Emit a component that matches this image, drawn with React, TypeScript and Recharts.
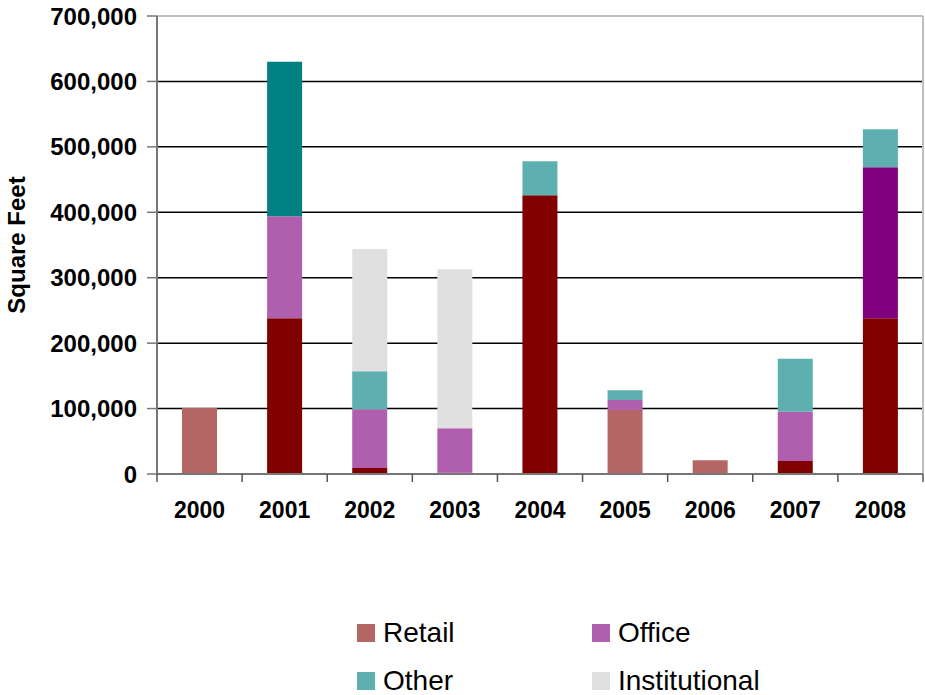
import React from "react";
import { BarChart, Bar, XAxis, YAxis, CartesianGrid, Cell, Legend, Label, ReferenceLine } from "recharts";

const years = ["2000", "2001", "2002", "2003", "2004", "2005", "2006", "2007", "2008"];
const retail = [101000, 238000, 9000, 2000, 426000, 98000, 21000, 20000, 238000];
const office = [0, 156000, 90000, 68000, 0, 15000, 0, 75000, 231000];
const other = [0, 236000, 58000, 0, 52000, 15000, 0, 81000, 58000];
const institutional = [0, 0, 187000, 243000, 0, 0, 0, 0, 0];
const yTicks = [0, 100000, 200000, 300000, 400000, 500000, 600000, 700000];

const data = years.map((year, i) => ({
  year,
  Retail: retail[i],
  Office: office[i],
  Other: other[i],
  Institutional: institutional[i],
}));

const font = "'Liberation Sans', Arial, sans-serif";

// base colour + darker shade used for some individual bars
const series = [
  { key: "Retail", color: "#B46664", dark: "#800000", darkYears: ["2001", "2002", "2003", "2004", "2007", "2008"] },
  { key: "Office", color: "#B05FAF", dark: "#800080", darkYears: ["2008"] },
  { key: "Other", color: "#5EAFAF", dark: "#008080", darkYears: ["2001"] },
  { key: "Institutional", color: "#E0E0E0", dark: "#E0E0E0", darkYears: [] as string[] },
];
const order = series.map((s) => s.key);

function XTick(props: any) {
  const { x, y, payload, index, visibleTicksCount } = props;
  const half = payload.offset || 0;
  return (
    <g>
      <line x1={x - half} y1={y} x2={x - half} y2={y + 8} stroke="#555" strokeWidth={1.5} />
      {index === visibleTicksCount - 1 && (
        <line x1={x + half} y1={y} x2={x + half} y2={y + 8} stroke="#555" strokeWidth={1.5} />
      )}
      <text x={x} y={y + 36} textAnchor="middle" dominantBaseline="central"
        fontFamily={font} fontWeight="bold" fontSize={23} fill="#000">
        {payload.value}
      </text>
    </g>
  );
}

function YLabel(props: any) {
  const { viewBox } = props;
  const cx = viewBox.x + 16;
  const cy = viewBox.y + viewBox.height / 2;
  return (
    <text x={cx} y={cy} transform={`rotate(-90 ${cx} ${cy})`} textAnchor="middle" dominantBaseline="central"
      fontFamily={font} fontWeight="bold" fontSize={24} fill="#000">
      Square Feet
    </text>
  );
}

function LegendBox(props: any) {
  const items = [...(props.payload || [])].sort(
    (a: any, b: any) => order.indexOf(a.value) - order.indexOf(b.value)
  );
  return (
    <div style={{ display: "grid", gridTemplateColumns: "235px 235px", rowGap: 0 }}>
      {items.map((it: any) => (
        <div key={it.value} style={{ display: "flex", alignItems: "center", height: 48, fontFamily: font, fontSize: 28, color: "#000" }}>
          <span style={{ width: 18, height: 18, background: it.color, marginRight: 8, display: "inline-block" }} />
          {it.value}
        </div>
      ))}
    </div>
  );
}

export default function App() {
  return (
    <div style={{ position: "absolute", left: 0, top: 0 }}>
      <BarChart width={925} height={695} data={data} margin={{ top: 16, right: 2, bottom: 181, left: 0 }} barSize={35}>
        <CartesianGrid vertical={false} stroke="#000" strokeOpacity={1} strokeWidth={1.5} />
        <CartesianGrid horizontal={false} stroke="#C0C0C0" strokeWidth={2}
          verticalCoordinatesGenerator={({ offset }: any) => [offset.left + offset.width]} />
        <ReferenceLine y={700000} stroke="#C0C0C0" strokeWidth={2} />
        <XAxis dataKey="year" height={40} tickSize={0} tickMargin={0} tickLine={false}
          axisLine={{ stroke: "#777", strokeWidth: 2 }} tick={<XTick />} interval={0} />
        <YAxis width={157} domain={[0, 700000]} ticks={yTicks} interval={0}
          tickFormatter={(v: number) => v.toLocaleString("en-US")}
          tick={{ fontFamily: font, fontWeight: "bold", fontSize: 24, fill: "#000" }}
          tickSize={10} tickMargin={10}
          tickLine={{ stroke: "#777", strokeWidth: 1.5 }}
          axisLine={{ stroke: "#777", strokeWidth: 2 }}>
          <Label position="center" content={<YLabel />} />
        </YAxis>
        <Legend layout="horizontal" verticalAlign="middle" align="center" content={<LegendBox />}
          wrapperStyle={{ position: "absolute", left: 357, top: 609, width: 470 }} />
        {series.map((s) => (
          <Bar key={s.key} dataKey={s.key} stackId="a" fill={s.color} isAnimationActive={false}>
            {data.map((d) => (
              <Cell key={d.year} fill={s.darkYears.includes(d.year) ? s.dark : s.color} />
            ))}
          </Bar>
        ))}
      </BarChart>
    </div>
  );
}
